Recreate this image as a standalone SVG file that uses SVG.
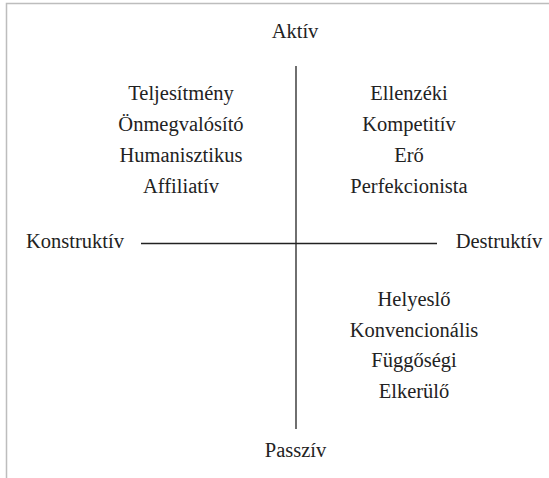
<svg xmlns="http://www.w3.org/2000/svg" width="549" height="478" viewBox="0 0 549 478">
<style>
text{font-family:"Liberation Serif","Times New Roman",serif;font-size:20.5px;fill:#222;text-anchor:middle}
.ax{stroke:#222;stroke-width:1.3;fill:none}
.frame{stroke:#bdbdbd;stroke-width:1.5;fill:none}
</style>
<rect width="549" height="478" fill="#fff"/>
<path class="frame" d="M6.5,478 V3.5 H549"/>
<g id="connectors">
<line class="ax" x1="296" y1="66" x2="296" y2="429"/>
<line class="ax" x1="141" y1="243.5" x2="437" y2="243.5"/>
</g>
<g id="aktiv"><text x="295" y="38">Aktív</text></g>
<g id="passziv"><text x="295.5" y="457">Passzív</text></g>
<g id="konstruktiv"><text x="75" y="248">Konstruktív</text></g>
<g id="destruktiv"><text x="499" y="248">Destruktív</text></g>
<g id="q1">
<text x="181" y="100">Teljesítmény</text>
<text x="181" y="131">Önmegvalósító</text>
<text x="181" y="162">Humanisztikus</text>
<text x="181" y="193">Affiliatív</text>
</g>
<g id="q2">
<text x="409" y="100">Ellenzéki</text>
<text x="409" y="131">Kompetitív</text>
<text x="409" y="162">Erő</text>
<text x="409" y="193">Perfekcionista</text>
</g>
<g id="q4">
<text x="414" y="306">Helyeslő</text>
<text x="414" y="337">Konvencionális</text>
<text x="414" y="367">Függőségi</text>
<text x="414" y="398">Elkerülő</text>
</g>
</svg>
